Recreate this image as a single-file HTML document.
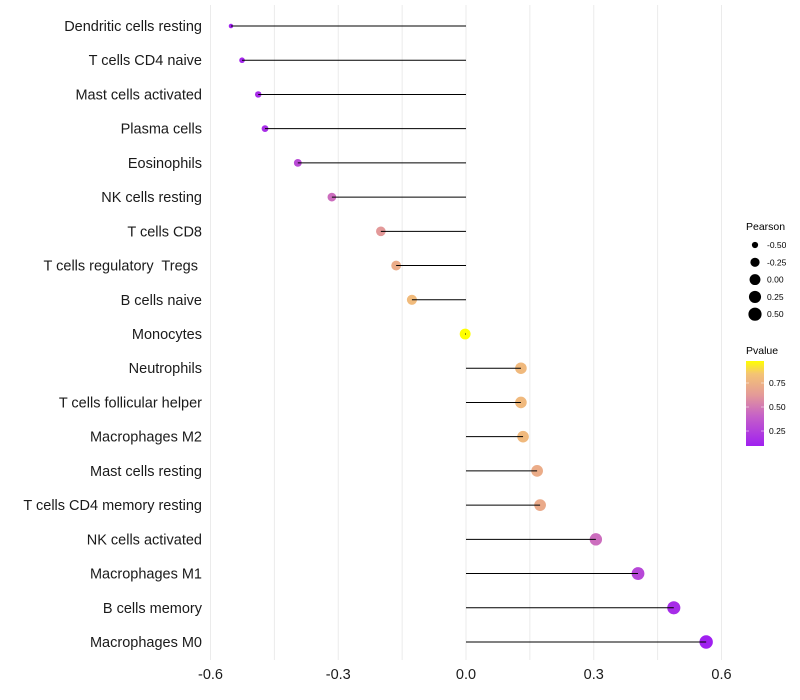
<!DOCTYPE html>
<html><head><meta charset="utf-8"><style>
body{margin:0;background:#fff;font-family:"Liberation Sans",sans-serif}
svg{display:block}
text{white-space:pre}
</style></head><body>
<svg id="chart" width="800" height="700" xmlns="http://www.w3.org/2000/svg">
<g id="grid"></g>
<g id="marks"></g>
<g id="ylabels"></g>
<g id="xlabels"></g>
<g id="sizeLegend">
<text x="746" y="230" font-size="10.5" fill="#000">Pearson</text>
</g>
<defs><linearGradient id="pg" x1="0" y1="1" x2="0" y2="0">
<stop offset="0" stop-color="#A020F0"/><stop offset="0.35" stop-color="#C560C8"/><stop offset="0.6" stop-color="#E49A98"/><stop offset="0.85" stop-color="#F4C474"/><stop offset="1" stop-color="#FFFF00"/>
</linearGradient></defs>
<g>
<text x="746" y="354" font-size="10.5" fill="#000">Pvalue</text>
<rect x="746" y="361" width="18" height="85" fill="url(#pg)"/>
<line x1="746" y1="383" x2="749" y2="383" stroke="#fff" stroke-width="0.5"/><line x1="761" y1="383" x2="764" y2="383" stroke="#fff" stroke-width="0.5"/>
<line x1="746" y1="407" x2="749" y2="407" stroke="#fff" stroke-width="0.5"/><line x1="761" y1="407" x2="764" y2="407" stroke="#fff" stroke-width="0.5"/>
<line x1="746" y1="431" x2="749" y2="431" stroke="#fff" stroke-width="0.5"/><line x1="761" y1="431" x2="764" y2="431" stroke="#fff" stroke-width="0.5"/>
<text x="769" y="386" font-size="8.5">0.75</text>
<text x="769" y="410" font-size="8.5">0.50</text>
<text x="769" y="434" font-size="8.5">0.25</text>
</g>
</svg>
<script>
const categories=["Dendritic cells resting","T cells CD4 naive","Mast cells activated","Plasma cells","Eosinophils","NK cells resting","T cells CD8","T cells regulatory  Tregs ","B cells naive","Monocytes","Neutrophils","T cells follicular helper","Macrophages M2","Mast cells resting","T cells CD4 memory resting","NK cells activated","Macrophages M1","B cells memory","Macrophages M0"];
const pearson=[-0.552,-0.526,-0.488,-0.472,-0.395,-0.315,-0.200,-0.164,-0.127,-0.002,0.129,0.129,0.134,0.167,0.174,0.305,0.404,0.488,0.564];
const pvalue=[0.1,0.12,0.15,0.16,0.3,0.45,0.62,0.72,0.8,0.99,0.79,0.79,0.79,0.72,0.71,0.45,0.28,0.15,0.08];
const xTicks=[-0.6,-0.3,0,0.3,0.6];
const xTickLabels=["-0.6","-0.3","0.0","0.3","0.6"];
const gridVals=[-0.6,-0.45,-0.3,-0.15,0,0.15,0.3,0.45,0.6];
const sizeLegendVals=[-0.5,-0.25,0,0.25,0.5];
const sizeLegendLabels=["-0.50","-0.25","0.00","0.25","0.50"];

const NS="http://www.w3.org/2000/svg";
const X=v=>466+v*425.8;
const Y=i=>26+i*(616/18);
const R=v=>1.5+5.2*Math.pow(Math.max(0,(v+0.56)/1.12),0.4);
function col(p){
  const stops=[[0,[160,32,240]],[0.35,[197,96,200]],[0.6,[228,154,152]],[0.85,[244,196,116]],[1,[255,255,0]]];
  const t=Math.max(0,Math.min(1,(p-0.09)/0.89));
  for(let k=1;k<stops.length;k++){if(t<=stops[k][0]){const a=stops[k-1],b=stops[k];const f=(t-a[0])/(b[0]-a[0]);return "rgb("+a[1].map((c,j)=>Math.round(c+(b[1][j]-c)*f)).join(",")+")";}}
  return "rgb(255,255,0)";
}
function mk(tag,attrs,parent){const e=document.createElementNS(NS,tag);for(const k in attrs)e.setAttribute(k,attrs[k]);parent.appendChild(e);return e;}
const grid=document.getElementById("grid"),marks=document.getElementById("marks"),yl=document.getElementById("ylabels"),xl=document.getElementById("xlabels"),sl=document.getElementById("sizeLegend");
gridVals.forEach(v=>{const l=mk("line",{x1:X(v),x2:X(v),y1:5,y2:660,stroke:"#ebebeb","stroke-width":1},grid);

});
categories.forEach((c,i)=>{
  const y=Y(i);
  const t=mk("text",{x:202,y:y+5,"text-anchor":"end","font-size":14.5,fill:"#1a1a1a"},yl);t.textContent=c;
  
  
  const cc=mk("circle",{cx:X(pearson[i]),cy:y,r:R(pearson[i]),fill:col(pvalue[i])},marks);
  
  
  const l=mk("line",{x1:X(0),x2:X(pearson[i]),y1:y,y2:y,stroke:"#000","stroke-width":1},marks);
  
  
});
xTicks.forEach((v,i)=>{const t=mk("text",{x:X(v),y:679,"text-anchor":"middle","font-size":14.5,fill:"#1a1a1a"},xl);t.textContent=xTickLabels[i];

});
sizeLegendVals.forEach((v,i)=>{const y=245+i*17.3;
const c=mk("circle",{cx:755,cy:y,r:R(v),fill:"#000"},sl);


const t=mk("text",{x:767,y:y+3,"font-size":8.5},sl);t.textContent=sizeLegendLabels[i];

});
</script>
</body></html>
